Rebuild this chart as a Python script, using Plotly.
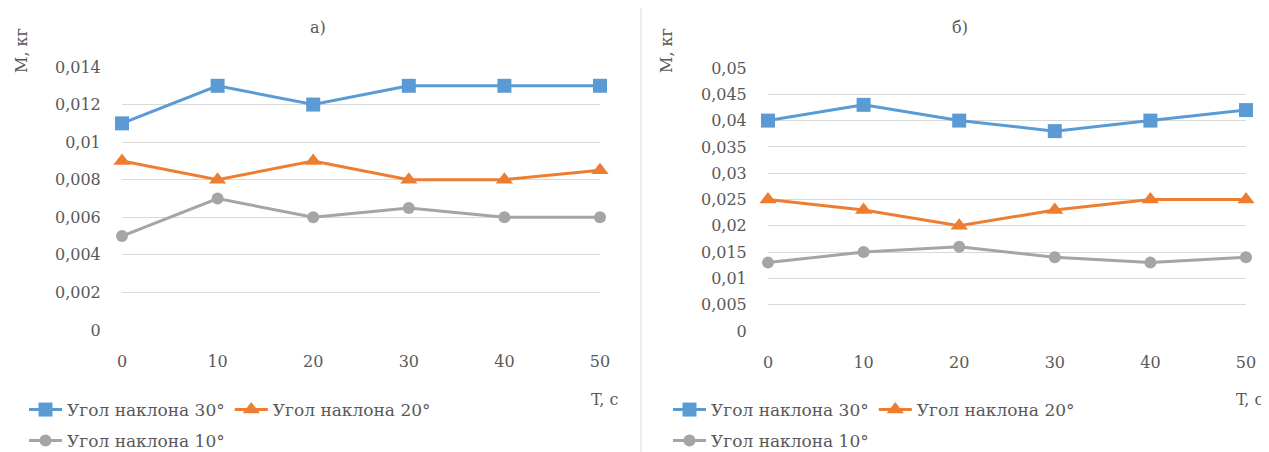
import plotly.graph_objects as go
from plotly.subplots import make_subplots

# The page body has an 8px margin, so the figure is drawn 8px smaller and
# all reference pixel positions are shifted by that offset.
OFF = 8
W, H = 1269 - OFF, 452 - OFF

# ---- data ----
t_values = [0, 10, 20, 30, 40, 50]
series_names = ["Угол наклона 30°", "Угол наклона 20°", "Угол наклона 10°"]

a_30 = [0.011, 0.013, 0.012, 0.013, 0.013, 0.013]
a_20 = [0.009, 0.008, 0.009, 0.008, 0.008, 0.0085]
a_10 = [0.005, 0.007, 0.006, 0.0065, 0.006, 0.006]

b_30 = [0.040, 0.043, 0.040, 0.038, 0.040, 0.042]
b_20 = [0.025, 0.023, 0.020, 0.023, 0.025, 0.025]
b_10 = [0.013, 0.015, 0.016, 0.014, 0.013, 0.014]

a_yticks = [0, 0.002, 0.004, 0.006, 0.008, 0.010, 0.012, 0.014]
a_ytext = ["0", "0,002", "0,004", "0,006", "0,008", "0,01", "0,012", "0,014"]
b_yticks = [0, 0.005, 0.010, 0.015, 0.020, 0.025, 0.030, 0.035, 0.040, 0.045, 0.050]
b_ytext = ["0", "0,005", "0,01", "0,015", "0,02", "0,025", "0,03", "0,035", "0,04", "0,045", "0,05"]
x_ticktext = ["0", "10", "20", "30", "40", "50"]

panel_titles = ["а)", "б)"]
y_title = "M, кг"
x_title = "T, c"

# ---- style ----
colors = ["#5B9BD5", "#ED7D31", "#A5A5A5"]
symbols = ["square", "triangle-up", "circle"]
msizes = [14, 15, 12]
FONT = "DejaVu Serif, Liberation Serif, serif"
TXT = "#595959"
FS = 16
LFS = 17

fig = make_subplots(rows=1, cols=2)

def px_x(p):
    return (p - OFF) / W

def px_y(p):
    return 1 - (p - OFF) / H

panels = [
    (1, [a_30, a_20, a_10], ["legend", "legend", "legend2"]),
    (2, [b_30, b_20, b_10], ["legend3", "legend3", "legend4"]),
]
for col, data, legs in panels:
    for i, ys in enumerate(data):
        fig.add_trace(
            go.Scatter(
                x=t_values, y=ys, name=series_names[i], mode="lines+markers",
                line=dict(color=colors[i], width=3),
                marker=dict(symbol=symbols[i], size=msizes[i], color=colors[i]),
                cliponaxis=False, legend=legs[i], showlegend=True,
            ),
            row=1, col=col,
        )

axis_common = dict(
    showline=False, zeroline=False, tickfont=dict(family=FONT, size=FS, color=TXT),
    ticks="outside", tickcolor="rgba(0,0,0,0)", automargin=False,
)

fig.update_xaxes(**axis_common, range=[0, 50], tickvals=t_values, ticktext=x_ticktext,
                 showgrid=False, ticklen=17)
fig.update_yaxes(**axis_common, showgrid=True, gridcolor="#D9D9D9", gridwidth=1, ticklen=17)

fig.update_layout(
    xaxis=dict(domain=[px_x(122), px_x(600)]),
    xaxis2=dict(domain=[px_x(768), px_x(1246)]),
    yaxis=dict(domain=[px_y(330), px_y(67)], range=[0, 0.014], tickvals=a_yticks, ticktext=a_ytext),
    yaxis2=dict(domain=[px_y(331), px_y(68)], range=[0, 0.05], tickvals=b_yticks, ticktext=b_ytext),
)

leg_common = dict(orientation="h", xanchor="left", yanchor="middle",
                  font=dict(family=FONT, size=LFS, color=TXT), bgcolor="rgba(0,0,0,0)",
                  itemwidth=33)
fig.update_layout(
    legend=dict(**leg_common, x=px_x(24), y=px_y(410)),
    legend2=dict(**leg_common, x=px_x(24), y=px_y(441)),
    legend3=dict(**leg_common, x=px_x(668), y=px_y(410)),
    legend4=dict(**leg_common, x=px_x(668), y=px_y(441)),
)

ann_font = dict(family=FONT, size=FS, color=TXT)
annotations = [
    dict(text=panel_titles[0], x=px_x(318), y=px_y(28)),
    dict(text=panel_titles[1], x=px_x(960), y=px_y(28)),
    dict(text=x_title, x=px_x(604), y=px_y(399)),
    dict(text=x_title, x=px_x(1249), y=px_y(399)),
    dict(text=y_title, x=px_x(21), y=px_y(51), textangle=-90),
    dict(text=y_title, x=px_x(666), y=px_y(51), textangle=-90),
]
for a in annotations:
    a.update(xref="paper", yref="paper", showarrow=False, font=ann_font,
             xanchor="center", yanchor="middle")

fig.update_layout(
    width=W, height=H, margin=dict(l=0, r=0, t=0, b=0, autoexpand=False),
    paper_bgcolor="white", plot_bgcolor="white",
    annotations=annotations,
    shapes=[dict(type="line", xref="paper", yref="paper",
                 x0=px_x(641), x1=px_x(641), y0=0, y1=px_y(8),
                 line=dict(color="#D9D9D9", width=1))],
)

fig.write_html("out.html")
